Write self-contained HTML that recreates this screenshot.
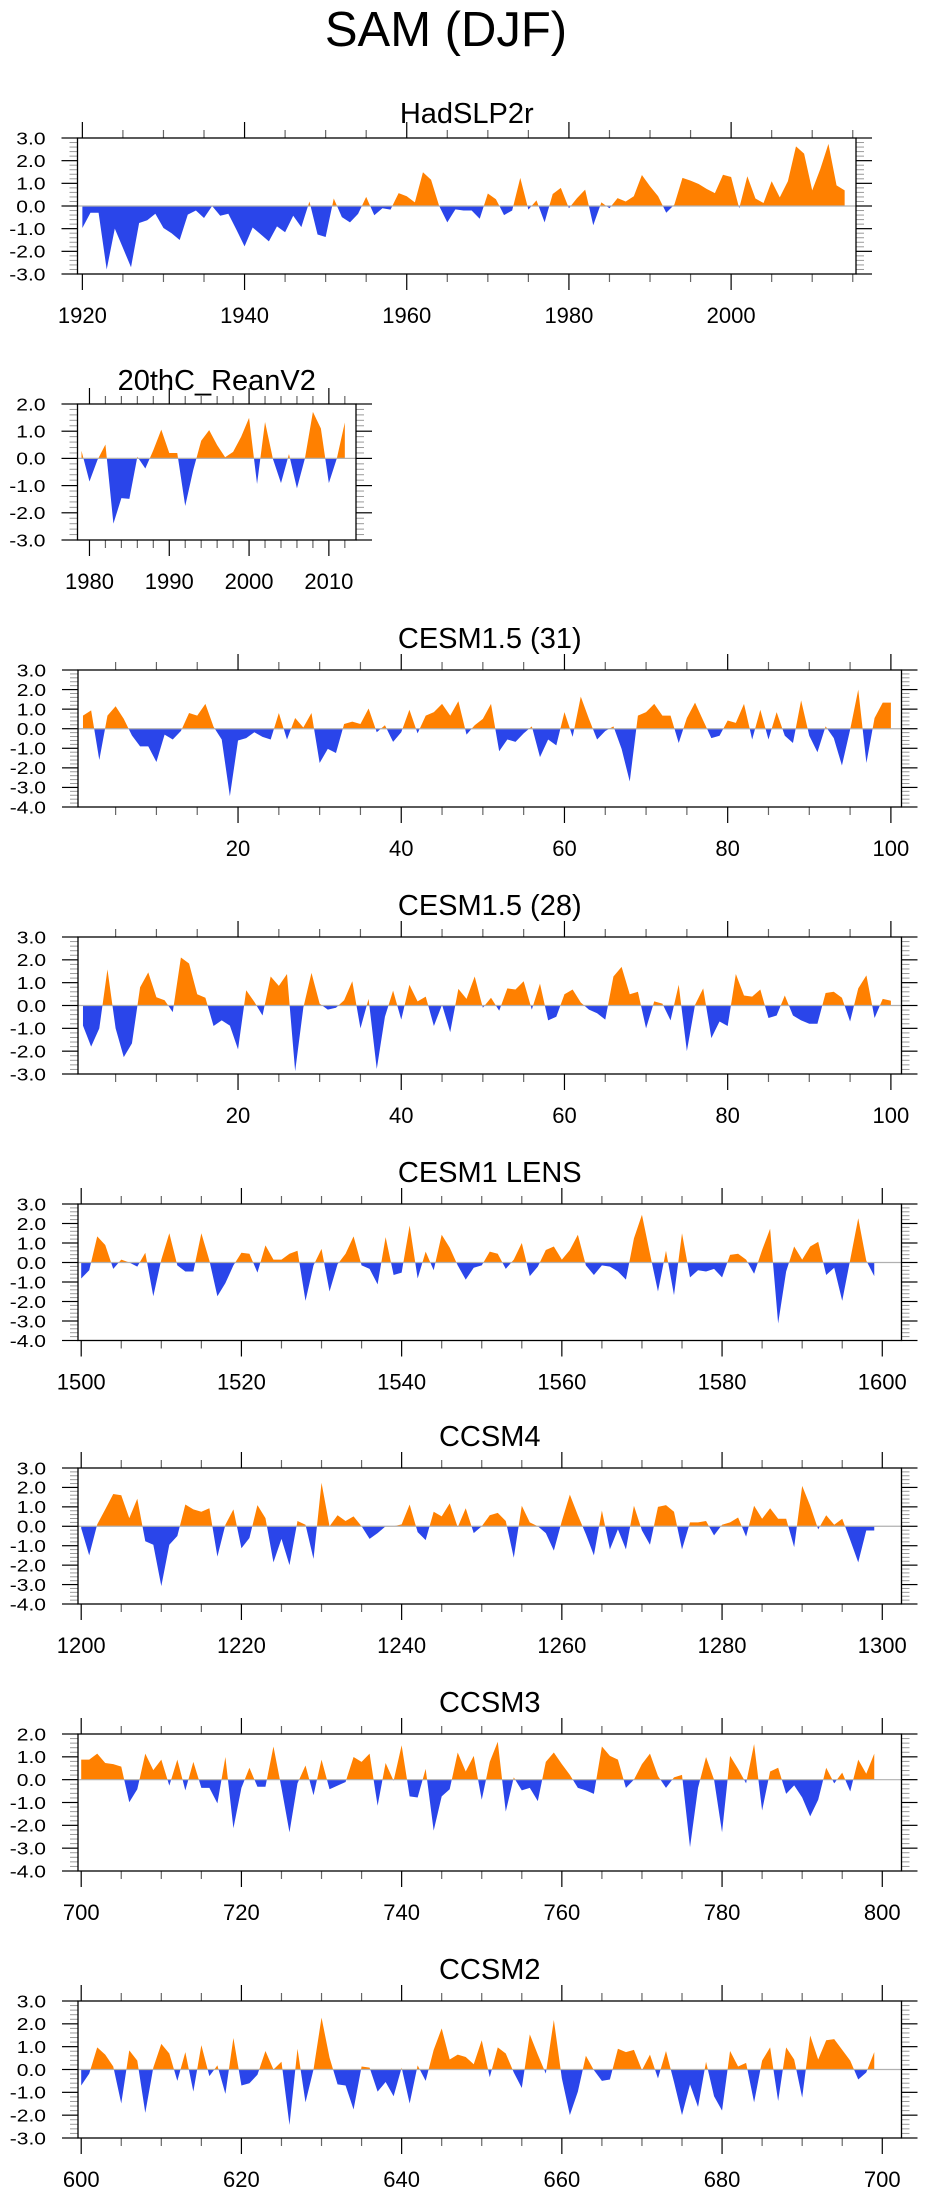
<!DOCTYPE html>
<html><head><meta charset="utf-8"><style>
html,body{margin:0;padding:0;background:#fff;}
svg{display:block;font-family:"Liberation Sans",Arial,sans-serif;}
</style></head><body>
<svg id="fig" width="925" height="2191" viewBox="0 0 925 2191" xmlns="http://www.w3.org/2000/svg">
<text x="446" y="46" font-size="49" text-anchor="middle" fill="#000">SAM (DJF)</text>
</svg>
<script>
const hadslp2rStart = 1920;
const hadslp2r = [-0.97,-0.3,-0.3,-2.8,-1.0,-1.85,-2.7,-0.75,-0.63,-0.34,-0.97,-1.2,-1.5,-0.38,-0.2,-0.53,0,-0.43,-0.34,-1.05,-1.78,-0.95,-1.25,-1.56,-0.9,-1.16,-0.43,-0.93,0.2,-1.26,-1.37,0.33,-0.49,-0.72,-0.35,0.4,-0.41,-0.1,-0.16,0.57,0.43,0.16,1.49,1.16,0.0,-0.72,-0.15,-0.2,-0.2,-0.56,0.55,0.3,-0.4,-0.2,1.24,-0.16,0.25,-0.72,0.53,0.8,-0.1,0.35,0.72,-0.85,0.16,-0.1,0.35,0.2,0.43,1.37,0.87,0.43,-0.3,0.06,1.24,1.12,0.97,0.75,0.57,1.38,1.28,-0.1,1.31,0.33,0.13,1.09,0.38,1.09,2.63,2.31,0.69,1.63,2.74,0.91,0.69];
const reanStart = 1979;
const rean = [0.28,-0.85,-0.06,0.51,-2.4,-1.46,-1.49,0.06,-0.37,0.3,1.06,0.2,0.2,-1.75,-0.43,0.65,1.04,0.49,0.04,0.24,0.79,1.49,-0.94,1.34,-0.03,-0.91,0.16,-1.1,0.0,1.71,1.1,-0.91,0.0,1.32];
const cesm31Start = 1;
const cesm31 = [0.67,0.94,-1.6,0.67,1.15,0.5,-0.35,-0.9,-0.9,-1.7,-0.3,-0.55,-0.12,0.8,0.67,1.27,0.1,-0.55,-3.45,-0.6,-0.48,-0.18,-0.42,-0.55,0.8,-0.55,0.55,0.06,0.8,-1.75,-1.03,-1.24,0.24,0.36,0.24,1.03,-0.18,0.18,-0.67,-0.18,0.97,-0.24,0.67,0.85,1.27,0.67,1.4,-0.3,0.18,0.5,1.27,-1.15,-0.55,-0.67,-0.24,0.12,-1.45,-0.55,-0.85,0.85,-0.42,1.64,0.5,-0.55,-0.12,0.12,-1.03,-2.7,0.67,0.85,1.27,0.67,0.67,-0.73,0.55,1.33,0.42,-0.48,-0.36,0.42,0.3,1.27,-0.55,0.97,-0.55,0.85,-0.36,-0.73,1.45,-0.36,-1.2,0.12,-0.48,-1.88,-0.06,2.0,-1.75,0.55,1.33,1.33];
const cesm28Start = 1;
const cesm28 = [-0.88,-1.8,-1.0,1.58,-1.0,-2.26,-1.66,0.8,1.45,0.36,0.23,-0.29,2.1,1.84,0.49,0.34,-0.9,-0.65,-0.88,-1.92,0.67,0.16,-0.44,1.27,0.86,1.38,-2.88,-0.1,1.43,0.08,-0.18,-0.1,0.23,1.06,-1.0,0.29,-2.78,-0.49,0.65,-0.62,0.91,0.18,0.39,-0.9,0.03,-1.17,0.73,0.29,1.27,-0.1,0.34,-0.23,0.75,0.7,1.06,-0.18,0.96,-0.65,-0.49,0.49,0.7,0.13,-0.18,-0.34,-0.62,1.27,1.69,0.49,0.6,-1.0,0.18,0.08,-0.65,0.91,-2.0,0.03,0.75,-1.43,-0.7,-0.9,1.38,0.44,0.39,0.7,-0.55,-0.44,0.44,-0.44,-0.65,-0.8,-0.8,0.55,0.6,0.34,-0.7,0.75,1.32,-0.55,0.29,0.21];
const lensStart = 1500;
const lens = [-0.82,-0.4,1.34,0.9,-0.33,0.15,0,-0.21,0.5,-1.73,0.15,1.5,-0.15,-0.46,-0.46,1.5,0.1,-1.73,-1.06,-0.15,0.5,0.45,-0.52,0.88,0.15,0.15,0.45,0.6,-1.97,-0.15,0.7,-1.49,-0.09,0.45,1.34,-0.15,-0.33,-1.12,1.3,-0.64,-0.52,1.9,-0.82,0.56,-0.4,1.42,0.76,-0.15,-0.88,-0.27,-0.15,0.56,0.45,-0.33,0.15,1.0,-0.7,-0.21,0.64,0.82,0.15,0.64,1.42,-0.15,-0.64,-0.15,-0.21,-0.46,-0.88,1.24,2.45,0.45,-1.49,0.6,-1.67,1.5,-0.76,-0.4,-0.46,-0.33,-0.76,0.39,0.45,0.15,-0.58,0.64,1.73,-3.13,-0.46,0.82,0.15,0.82,1.06,-0.64,-0.27,-1.97,0.15,2.27,0.1,-0.7];
const ccsm4Start = 1200;
const ccsm4 = [-0.1,-1.5,0.1,0.87,1.66,1.6,0.42,1.42,-0.77,-0.95,-3.08,-0.95,-0.5,1.12,0.87,0.75,0.93,-1.56,0.08,0.87,-1.13,-0.6,1.09,0.42,-1.86,-0.65,-2.0,0.27,0.08,-1.68,2.24,0,0.57,0.27,0.51,0,-0.65,-0.35,0,0,0.1,1.12,-0.3,-0.71,0.75,0.51,1.18,-0.05,0.93,-0.35,0,0.57,0.69,0.27,-1.62,1.06,0.2,0,-0.35,-1.25,0.27,1.63,0.57,-0.41,-1.5,0.81,-1.19,-0.16,-1.19,1.06,-0.22,-0.95,1.0,1.09,0.75,-1.19,0.2,0.2,0.27,-0.47,0.08,0.2,0.45,-0.53,1.06,0.39,0.93,0.39,0.39,-1.07,2.08,1.06,-0.16,0.57,0.08,0.39,-0.71,-1.86,-0.22,-0.22];
const ccsm3Start = 700;
const ccsm3 = [0.88,0.88,1.14,0.73,0.68,0.57,-0.99,-0.42,1.14,0.42,0.88,-0.26,0.88,-0.47,0.78,-0.36,-0.36,-1.04,0.99,-2.13,-0.36,0.52,-0.31,-0.31,1.45,-0.36,-2.31,-0.16,0.62,-0.68,0.88,-0.42,-0.26,-0.1,0.99,0.78,1.14,-1.14,0.73,-0.05,1.51,-0.73,-0.78,0.47,-2.23,-0.73,-0.42,1.19,0.36,1.04,-0.88,0.78,1.66,-1.4,0.1,-0.47,-0.36,-0.94,0.78,1.19,0.68,0.21,-0.36,-0.47,-0.62,1.45,1.04,0.88,-0.36,0,0.68,1.14,0.16,-0.36,0.1,0.21,-2.96,-0.36,0.99,0,-2.31,1.04,0.47,-0.16,1.56,-1.35,0.36,0.52,-0.62,-0.25,-0.78,-1.61,-0.88,0.52,-0.16,0.31,-0.52,0.88,0.26,1.14];
const ccsm2Start = 600;
const ccsm2 = [-0.7,-0.18,0.97,0.65,0.13,-1.49,0.84,0.39,-1.9,0.08,1.12,0.7,-0.5,0.76,-0.97,1.07,-0.29,0.18,-1.07,1.38,-0.7,-0.6,-0.23,0.81,0,0.34,-2.43,0.91,-1.44,0,2.27,0.52,-0.65,-0.7,-1.75,0.13,0.08,-0.97,-0.55,-1.17,0.08,-1.49,0.18,-0.5,0.86,1.8,0.44,0.65,0.55,0.23,1.28,-0.34,0.97,0.7,-0.13,-0.81,1.54,0.65,-0.18,2.17,-0.39,-2.0,-0.97,0.6,-0.03,-0.5,-0.44,0.91,0.76,0.86,-0.03,0.65,-0.39,0.81,-0.55,-2.0,-0.65,-1.64,0.34,-1.17,-1.8,0.81,0.13,0.29,-1.44,0.39,0.97,-1.38,0.97,0.44,-1.23,1.49,0.44,1.28,1.33,0.86,0.39,-0.44,-0.13,0.76];

const panelTitles = ["HadSLP2r","20thC_ReanV2","CESM1.5 (31)","CESM1.5 (28)","CESM1 LENS","CCSM4","CCSM3","CCSM2"];
const panelSeries = [hadslp2r, rean, cesm31, cesm28, lens, ccsm4, ccsm3, ccsm2];
const panelStarts = [hadslp2rStart, reanStart, cesm31Start, cesm28Start, lensStart, ccsm4Start, ccsm3Start, ccsm2Start];
const panelNames = ["hadslp2r","20thc-reanv2","cesm15-31","cesm15-28","cesm1-lens","ccsm4","ccsm3","ccsm2"];

// layout (not data)
const layout = [
 {l:77.5,r:856,t:138,b:274,xmin:1919.4,xmax:2015.4,ymin:-3,ymax:3,maj:20,min:5,tb:123},
 {l:77.5,r:356,t:404,b:540,xmin:1978.5,xmax:2013.4,ymin:-3,ymax:2,maj:10,min:2,tb:390},
 {l:78,r:901.5,t:670,b:807,xmin:0.39,xmax:101.3,ymin:-4,ymax:3,maj:20,min:5,tb:648},
 {l:78,r:901.5,t:937,b:1074,xmin:0.39,xmax:101.3,ymin:-3,ymax:3,maj:20,min:5,tb:915},
 {l:78,r:901.5,t:1204,b:1340.5,xmin:1499.6,xmax:1602.4,ymin:-4,ymax:3,maj:20,min:5,tb:1182},
 {l:78,r:901.5,t:1468,b:1604,xmin:1199.6,xmax:1302.4,ymin:-4,ymax:3,maj:20,min:5,tb:1446},
 {l:78,r:901.5,t:1734,b:1871,xmin:699.6,xmax:802.4,ymin:-4,ymax:2,maj:20,min:5,tb:1712},
 {l:78,r:901.5,t:2001,b:2138,xmin:599.6,xmax:702.4,ymin:-3,ymax:3,maj:20,min:5,tb:1979}
];

const NS = "http://www.w3.org/2000/svg";
const svg = document.getElementById("fig");
function mk(tag, attrs, parent){
  const e = document.createElementNS(NS, tag);
  for (const k in attrs) e.setAttribute(k, attrs[k]);
  parent.appendChild(e);
  return e;
}
function line(p, x1,y1,x2,y2,col,w){
  const e = mk("line",{x1:x1,y1:y1,x2:x2,y2:y2,stroke:col,"stroke-width":w},p);
  
  
  return e;
}
function labelWidth(s, fs){
  let w = 0;
  for (const c of s) w += (c === '.') ? 0.278 : (c === '-') ? 0.333 : 0.556;
  return w * fs;
}

layout.forEach((L, i) => {
  const data = panelSeries[i], start = panelStarts[i];
  const g = mk("g", {}, svg);
  
  
  const xs = v => L.l + (v - L.xmin) / (L.xmax - L.xmin) * (L.r - L.l);
  const ys = v => L.t + (L.ymax - v) / (L.ymax - L.ymin) * (L.b - L.t);
  const y0 = ys(0);

  const title = mk("text", {x:(L.l+L.r)/2, y:L.tb, "font-size":29, "text-anchor":"middle", fill:"#000"}, g);
  title.textContent = panelTitles[i];
  
  

  let d = "M" + xs(start).toFixed(2) + "," + y0.toFixed(2);
  data.forEach((v, k) => { d += " L" + xs(start + k).toFixed(2) + "," + ys(v).toFixed(2); });
  d += " L" + xs(start + data.length - 1).toFixed(2) + "," + y0.toFixed(2) + " Z";
  const defs = mk("defs", {}, g);
  const ca = mk("clipPath", {id:"ca"+i}, defs);
  mk("rect", {x:L.l, y:L.t, width:L.r-L.l, height:y0-L.t}, ca);
  const cb = mk("clipPath", {id:"cb"+i}, defs);
  mk("rect", {x:L.l, y:y0, width:L.r-L.l, height:L.b-y0}, cb);
  const pa = mk("path", {d:d, fill:"#ff8000", "clip-path":"url(#ca"+i+")"}, g);
  
  
  const pb = mk("path", {d:d, fill:"#2a45ea", "clip-path":"url(#cb"+i+")"}, g);
  
  

  const zl = mk("line", {x1:L.l, x2:L.r, y1:y0, y2:y0, stroke:"#b0b0b0", "stroke-width":1.2}, g);
  
  

  for (let v = L.ymin; v <= L.ymax + 1e-6; v += 0.2) {
    const y = ys(v);
    const isMaj = Math.abs(v - Math.round(v)) < 1e-6;
    if (isMaj) {
      line(g, L.l-16, y, L.l, y, "#000", 1.2);
      line(g, L.r, y, L.r+16, y, "#000", 1.2);
      const s = Math.round(v).toFixed(1);
      const t = mk("text", {x:L.l-32, y:y+6.3, "font-size":17.5, "text-anchor":"end", fill:"#000",
        textLength:labelWidth(s, 21).toFixed(1), lengthAdjust:"spacingAndGlyphs"}, g);
      t.textContent = s;
      
      
    } else {
      line(g, L.l-8, y, L.l, y, "#999", 1);
      line(g, L.r, y, L.r+8, y, "#999", 1);
    }
  }
  const first = Math.ceil(L.xmin / L.min) * L.min;
  for (let v = first; v <= L.xmax; v += L.min) {
    const x = xs(v);
    const isMaj = v % L.maj === 0;
    const len = isMaj ? 16 : 8;
    const col = isMaj ? "#000" : "#666";
    line(g, x, L.t-len, x, L.t, col, 1.2);
    line(g, x, L.b, x, L.b+len, col, 1.2);
    if (isMaj) {
      const t = mk("text", {x:x, y:L.b+49, "font-size":22, "text-anchor":"middle", fill:"#000"}, g);
      t.textContent = String(v);
      
      
    }
  }
  const fr = mk("rect", {x:L.l, y:L.t, width:L.r-L.l, height:L.b-L.t, fill:"none", stroke:"#000", "stroke-width":1.3}, g);
  
  
});
</script>
</body></html>
